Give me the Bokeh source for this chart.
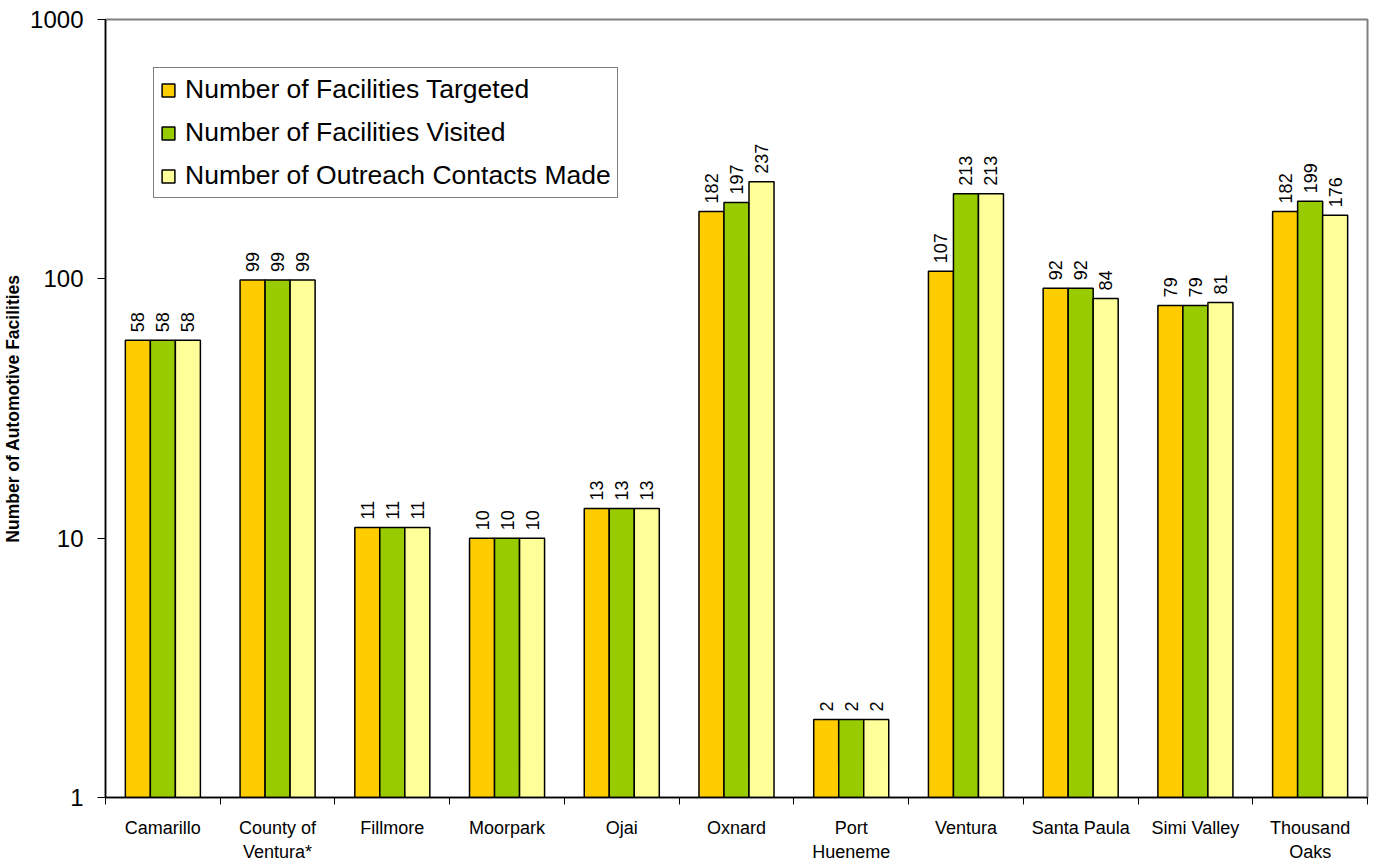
from bokeh.plotting import figure
from bokeh.models import ColumnDataSource, FixedTicker, Legend, LegendItem
from bokeh.transform import dodge
from bokeh.core.properties import value
from bokeh.embed import file_html
from bokeh.resources import INLINE
import math

categories = ["Camarillo", "County of\nVentura*", "Fillmore", "Moorpark", "Ojai", "Oxnard",
              "Port\nHueneme", "Ventura", "Santa Paula", "Simi Valley", "Thousand\nOaks"]
targeted = [58, 99, 11, 10, 13, 182, 2, 107, 92, 79, 182]
visited = [58, 99, 11, 10, 13, 197, 2, 213, 92, 79, 199]
contacts = [58, 99, 11, 10, 13, 237, 2, 213, 84, 81, 176]
series_names = ["Number of Facilities Targeted", "Number of Facilities Visited",
                "Number of Outreach Contacts Made"]
colors = ["#FFCC00", "#99CC00", "#FFFF99"]
y_ticks = [1, 10, 100, 1000]

FONT = "Liberation Sans"
xi = list(range(len(categories)))
src = ColumnDataSource(dict(
    xi=xi, targeted=targeted, visited=visited, contacts=contacts,
    t_lab=[str(v) for v in targeted], v_lab=[str(v) for v in visited],
    c_lab=[str(v) for v in contacts],
))

p = figure(width=1370, height=864, output_backend="svg", toolbar_location=None,
           y_axis_type="log", x_range=(-0.5, len(categories) - 0.5), y_range=(1, 1000),
           min_border_left=104, min_border_right=3, min_border_top=19, min_border_bottom=0)
p.background_fill_color = "white"
p.border_fill_color = "white"
p.outline_line_color = "#808080"
p.outline_line_width = 2
p.xgrid.visible = False
p.ygrid.visible = False

bw = 0.218
offs = [-bw, 0.0, bw]
fields = ["targeted", "visited", "contacts"]
labs = ["t_lab", "v_lab", "c_lab"]
renderers = []
for f, lab, off, c in zip(fields, labs, offs, colors):
    r = p.vbar(x=dodge("xi", off), top=f, bottom=1, width=bw, source=src,
               fill_color=c, line_color="black", line_width=1.5)
    renderers.append(r)
    p.text(x=dodge("xi", off), y=f, text=lab, source=src, angle=math.pi / 2,
           text_align="left", text_baseline="middle", y_offset=-8,
           text_font=value(FONT), text_font_size="18px", text_color="black")

# x axis
p.xaxis.ticker = FixedTicker(ticks=xi, minor_ticks=[i - 0.5 for i in range(len(categories) + 1)])
p.xaxis.major_label_overrides = {i: c for i, c in enumerate(categories)}
p.xaxis.major_tick_line_color = None
p.xaxis.minor_tick_line_color = "black"
p.xaxis.minor_tick_in = 0
p.xaxis.minor_tick_out = 7
p.xaxis.axis_line_color = "black"
p.xaxis.axis_line_width = 1.5
p.xaxis.major_label_standoff = 13
p.xaxis.major_label_text_font = FONT
p.xaxis.major_label_text_font_size = "18px"
p.xaxis.major_label_text_color = "black"

# y axis
p.yaxis.ticker = FixedTicker(ticks=y_ticks)
p.yaxis.major_label_overrides = {t: str(t) for t in y_ticks}
p.yaxis.minor_tick_line_color = None
p.yaxis.major_tick_in = 0
p.yaxis.major_tick_out = 8
p.yaxis.axis_line_color = "black"
p.yaxis.axis_line_width = 1.5
p.yaxis.major_label_standoff = 14
p.yaxis.major_label_text_font = FONT
p.yaxis.major_label_text_font_size = "24px"
p.yaxis.major_label_text_color = "black"
p.yaxis.axis_label = "Number of Automotive Facilities"
p.yaxis.axis_label_text_font = FONT
p.yaxis.axis_label_text_font_size = "17.5px"
p.yaxis.axis_label_text_font_style = "bold"
p.yaxis.axis_label_text_color = "black"
p.yaxis.axis_label_standoff = 4

legend = Legend(items=[LegendItem(label=n, renderers=[r]) for n, r in zip(series_names, renderers)],
                location="top_left", margin=48, padding=6, spacing=12,
                label_height=30, glyph_height=16, glyph_width=16, label_standoff=9,
                label_text_font=FONT, label_text_font_size="26.5px",
                label_text_color="black", border_line_color="black", border_line_width=1,
                background_fill_color="white", background_fill_alpha=1)
p.add_layout(legend, "center")

open("out.html", "w").write(file_html(p, INLINE))
